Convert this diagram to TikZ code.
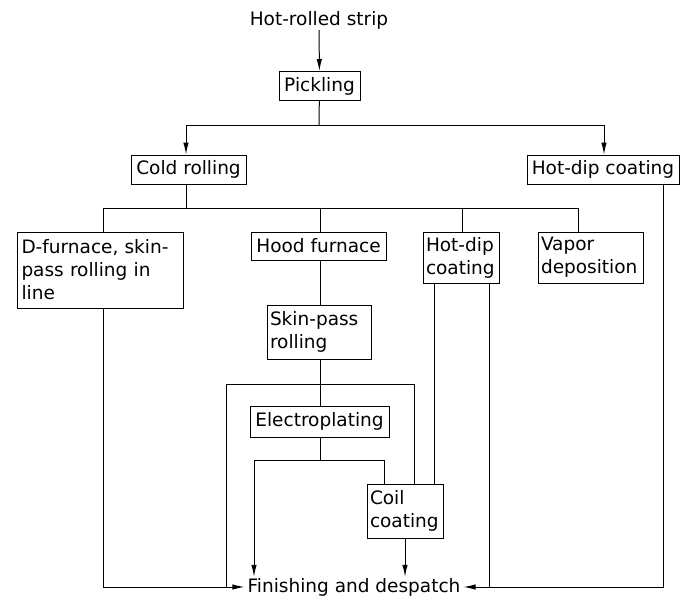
\documentclass[tikz,border=0pt]{standalone}
\usepackage{fontspec}
\setmainfont{DejaVu Sans}
\usetikzlibrary{arrows.meta}
\begin{document}
\begin{tikzpicture}[x=1pt,y=-1pt,
  font=\fontsize{18.5}{23}\selectfont,
  ln/.style={line width=1pt},
  arr/.style={ln,-{Latex[length=12pt,width=5.5pt]}},
  box/.style={draw,line width=1pt,inner xsep=3pt,inner ysep=2pt,align=left},
  lbl/.style={inner sep=1pt}]
\useasboundingbox (0,0) rectangle (681,600);
% nodes
\node[lbl] (hrs) at (319,20) {Hot-rolled strip};
\node[box,minimum width=81,minimum height=29] (pick) at (319.5,86) {Pickling};
\node[box,minimum width=115,minimum height=29] (cold) at (188.5,169.5) {Cold rolling};
\node[box,minimum width=152,minimum height=29] (hdc1) at (603,169.5) {Hot-dip coating};
\node[box,minimum width=166,minimum height=76,text width=158] (dfur) at (100.5,270) {D-furnace, skin-\\pass rolling in\\line};
\node[box,minimum width=135,minimum height=28] (hood) at (318.5,246) {Hood furnace};
\node[box,minimum width=76,minimum height=51,text width=70] (hdc2) at (461,257.5) {Hot-dip\\coating};
\node[box,minimum width=105,minimum height=51,text width=99] (vap) at (590.5,257.5) {Vapor\\deposition};
\node[box,minimum width=104,minimum height=54,text width=98] (skin) at (319,332) {Skin-pass\\rolling};
\node[box,minimum width=139,minimum height=31] (elec) at (319.5,421.5) {Electroplating};
\node[box,minimum width=76,minimum height=54,text width=70] (coil) at (405,511) {Coil\\coating};
\node[lbl,inner xsep=3pt,anchor=base] (fin) at (354,592) {Finishing and despatch};
% junction coordinates
\coordinate (j1) at (319,125);
\coordinate (j1l) at (186,125);
\coordinate (j1r) at (604,125);
\coordinate (j2) at (186,208);
\coordinate (j2a) at (103,208);
\coordinate (j2b) at (320,208);
\coordinate (j2c) at (462,208);
\coordinate (j2d) at (578,208);
\coordinate (j3) at (320,384);
\coordinate (j3l) at (226,384);
\coordinate (j3r) at (414,384);
\coordinate (j4) at (320,460);
\coordinate (j4l) at (254,460);
\coordinate (j4r) at (384,460);
\coordinate (bl) at (103,587);
\coordinate (br) at (663,587);
\coordinate (fw) at (fin.west |- bl);
\coordinate (fe) at (fin.east |- br);
% connectors
\draw[arr] (hrs) -- (pick);
\draw[ln] (pick) -- (j1);
\draw[ln] (j1l) -- (j1r);
\draw[arr] (j1l) -- (j1l |- cold.north);
\draw[arr] (j1r) -- (j1r |- hdc1.north);
\draw[ln] (j2 |- cold.south) -- (j2);
\draw[ln] (j2a) -- (j2d);
\draw[ln] (j2a) -- (j2a |- dfur.north);
\draw[ln] (j2b) -- (j2b |- hood.north);
\draw[ln] (j2c) -- (j2c |- hdc2.north);
\draw[ln] (j2d) -- (j2d |- vap.north);
\draw[ln] (hood.south -| j2b) -- (j2b |- skin.north);
\draw[ln] (skin.south -| j3) -- (j3);
\draw[ln] (j3) -- (j3 |- elec.north);
\draw[ln] (j3l |- bl) -- (j3l) -- (j3r) -- (j3r |- coil.north);
\draw[ln] (elec.south -| j4) -- (j4);
\draw[arr] (j4r |- coil.north) -- (j4r) -- (j4l) -- (j4l |- fin.north);
\draw[ln] (hdc2.south -| 434,0) -- (coil.north -| 434,0);
\draw[ln] (hdc2.south -| 489,0) -- (489,587);
\draw[arr] (coil.south) -- (coil.south |- fin.north);
\draw[arr] (bl |- dfur.south) -- (bl) -- (fw);
\draw[arr] (hdc1.south -| br) -- (br) -- (fe);
\end{tikzpicture}
\end{document}
